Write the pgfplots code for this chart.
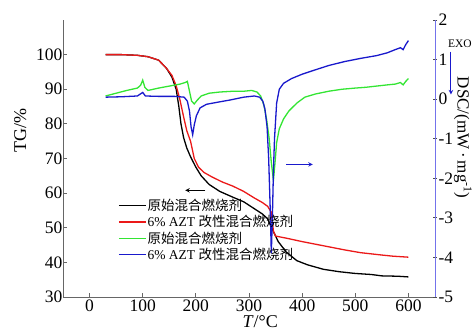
\documentclass[border=0pt]{standalone}
\usepackage{fontspec}
\setmainfont{Liberation Serif}
\newfontfamily\cjk{Noto Sans CJK SC}
\usepackage{pgfplots}
\pgfplotsset{compat=1.18}
\definecolor{cgreen}{rgb}{0.2,0.9,0.2}
\definecolor{cblue}{rgb}{0.1,0.1,0.8}
\definecolor{cred}{rgb}{0.92,0.1,0.1}
\definecolor{raxis}{rgb}{0.45,0.45,0.92}
\begin{document}
\begin{tikzpicture}
\useasboundingbox (0,0) rectangle (475bp,334bp);
\pgfplotsset{
  common/.style={
    at={(63bp,37bp)}, anchor=south west, scale only axis,
    width=372bp, height=277bp,
    xmin=-50, xmax=650,
    /pgf/number format/assume math mode=true,
    ticklabel style={font=\fontsize{17.5bp}{17.5bp}\selectfont},
    label style={font=\fontsize{18bp}{18bp}\selectfont},
    major tick length=4bp,
    every axis plot/.append style={no marks, line width=1.3pt},
    clip=false,
  }
}
\begin{axis}[common,
  ymin=30, ymax=110,
  axis x line*=bottom, axis y line*=left,
  xtick={0,100,...,600}, ytick={30,40,...,100},
  tick align=inside,
  axis line style={black!60, line width=0.9pt},
  tick style={black!60, line width=0.8pt},
  yticklabel style={xshift=3bp},
  xticklabel style={yshift=1bp},
  xlabel={\textit{T}/°C}, ylabel={TG/\%},
  xlabel style={at={(axis description cs:0.53,-0.09)}, anchor=center},
  ylabel style={at={(axis description cs:-0.115,0.6)}, anchor=center},
]
\addplot[black] coordinates {
(30,100)(60,100)(90,99.8)(110,99.4)(130,98.4)(145,96)(155,93.5)(163,90)(168,85)(172,80)(177,76)(183,73)(190,70.5)(200,67.5)(210,65)(225,62.5)(245,60.5)(270,58.8)(290,57.5)(310,55.5)(325,54)(335,52.6)(344,49.5)(355,46)(370,43)(390,40.5)(410,39.3)(440,38)(470,37.3)(500,36.8)(530,36.5)(550,36.1)(580,36)(600,35.8)
};
\addplot[cred] coordinates {
(30,100)(60,100)(90,99.8)(110,99.4)(130,98.4)(145,96)(155,94)(163,91)(170,87)(177,82)(183,78)(190,75)(197,70)(205,67.5)(215,66)(230,64.7)(250,63.2)(270,62)(290,60.5)(310,58.6)(325,57.3)(335,56.2)(342,54.5)(346,49)(350,47.6)(370,47)(400,46)(440,44.8)(480,43.6)(510,42.8)(545,42.2)(570,41.8)(600,41.5)
};
\draw[-stealth, line width=1pt] (axis cs:218,60.8) -- (axis cs:180,60.8);
\end{axis}
\begin{axis}[common,
  ymin=-5, ymax=2,
  axis y line*=right, axis x line=none,
  ytick={-5,-4,...,2},
  tick align=center,
  axis line style={raxis, line width=1pt},
  tick style={black!70, line width=0.8pt},
  yticklabel style={xshift=-2bp},
  ylabel={DSC/(mW\,·\,mg\textsuperscript{-1})},
  ylabel style={font=\fontsize{17bp}{17bp}\selectfont, at={(axis description cs:1.075,0.575)}, anchor=center, rotate=180},
  legend style={at={(axis description cs:0.14,0.367)}, anchor=north west,
    draw=none, fill=none, font=\fontsize{13.5bp}{13.5bp}\selectfont,
    nodes={inner ysep=1.7bp, inner xsep=1bp}, row sep=0bp},
  legend cell align=left,
  legend image code/.code={\draw[#1] (0bp,0bp) -- (27bp,0bp);},
]
\addlegendimage{black, line width=1.3pt}
\addlegendentry{\cjk 原始混合燃烧剂}
\addlegendimage{cred, line width=1.3pt}
\addlegendentry{6\% AZT {\cjk 改性混合燃烧剂}}
\addplot[cgreen] coordinates {
(30,0.08)(50,0.15)(70,0.22)(90,0.28)(96,0.35)(100,0.48)(104,0.3)(110,0.22)(130,0.28)(150,0.33)(170,0.38)(180,0.42)(184,0.45)(188,0.2)(192,-0.05)(197,-0.12)(203,-0.02)(210,0.08)(225,0.15)(245,0.18)(270,0.2)(290,0.2)(305,0.22)(315,0.18)(322,0.08)(328,-0.15)(333,-0.5)(338,-1.0)(342,-1.6)(346,-2.05)(349,-1.6)(352,-1.1)(357,-0.75)(365,-0.5)(375,-0.3)(390,-0.1)(405,0.05)(425,0.13)(450,0.2)(475,0.25)(500,0.28)(520,0.3)(540,0.33)(560,0.36)(575,0.38)(585,0.42)(590,0.36)(595,0.45)(600,0.52)
};
\addlegendentry{\cjk 原始混合燃烧剂}
\addplot[cblue] coordinates {
(30,0.05)(60,0.06)(90,0.08)(100,0.17)(105,0.08)(130,0.07)(160,0.07)(178,0.05)(184,-0.05)(188,-0.3)(191,-0.7)(194,-0.9)(197,-0.65)(201,-0.42)(208,-0.22)(220,-0.13)(240,-0.08)(265,-0.02)(290,0.05)(310,0.08)(320,0.05)(326,-0.05)(330,-0.25)(334,-0.7)(337,-1.5)(340,-2.8)(342,-3.9)(344,-3.0)(346,-1.8)(348,-1.0)(352,-0.1)(357,0.25)(365,0.4)(380,0.52)(400,0.63)(420,0.72)(450,0.85)(480,0.95)(510,1.03)(540,1.1)(560,1.17)(575,1.25)(585,1.3)(590,1.25)(595,1.38)(600,1.48)
};
\addlegendentry{6\% AZT {\cjk 改性混合燃烧剂}}
\draw[-stealth, cblue, line width=1pt] (axis cs:370,-1.65) -- (axis cs:420,-1.65);
\draw[-stealth, cblue, line width=1pt] (axis cs:680,1.2) -- (axis cs:680,0.12);
\node[font=\fontsize{11.5bp}{11.5bp}\selectfont, inner sep=0pt] at (axis cs:697,1.4) {EXO};
\end{axis}
\end{tikzpicture}
\end{document}
